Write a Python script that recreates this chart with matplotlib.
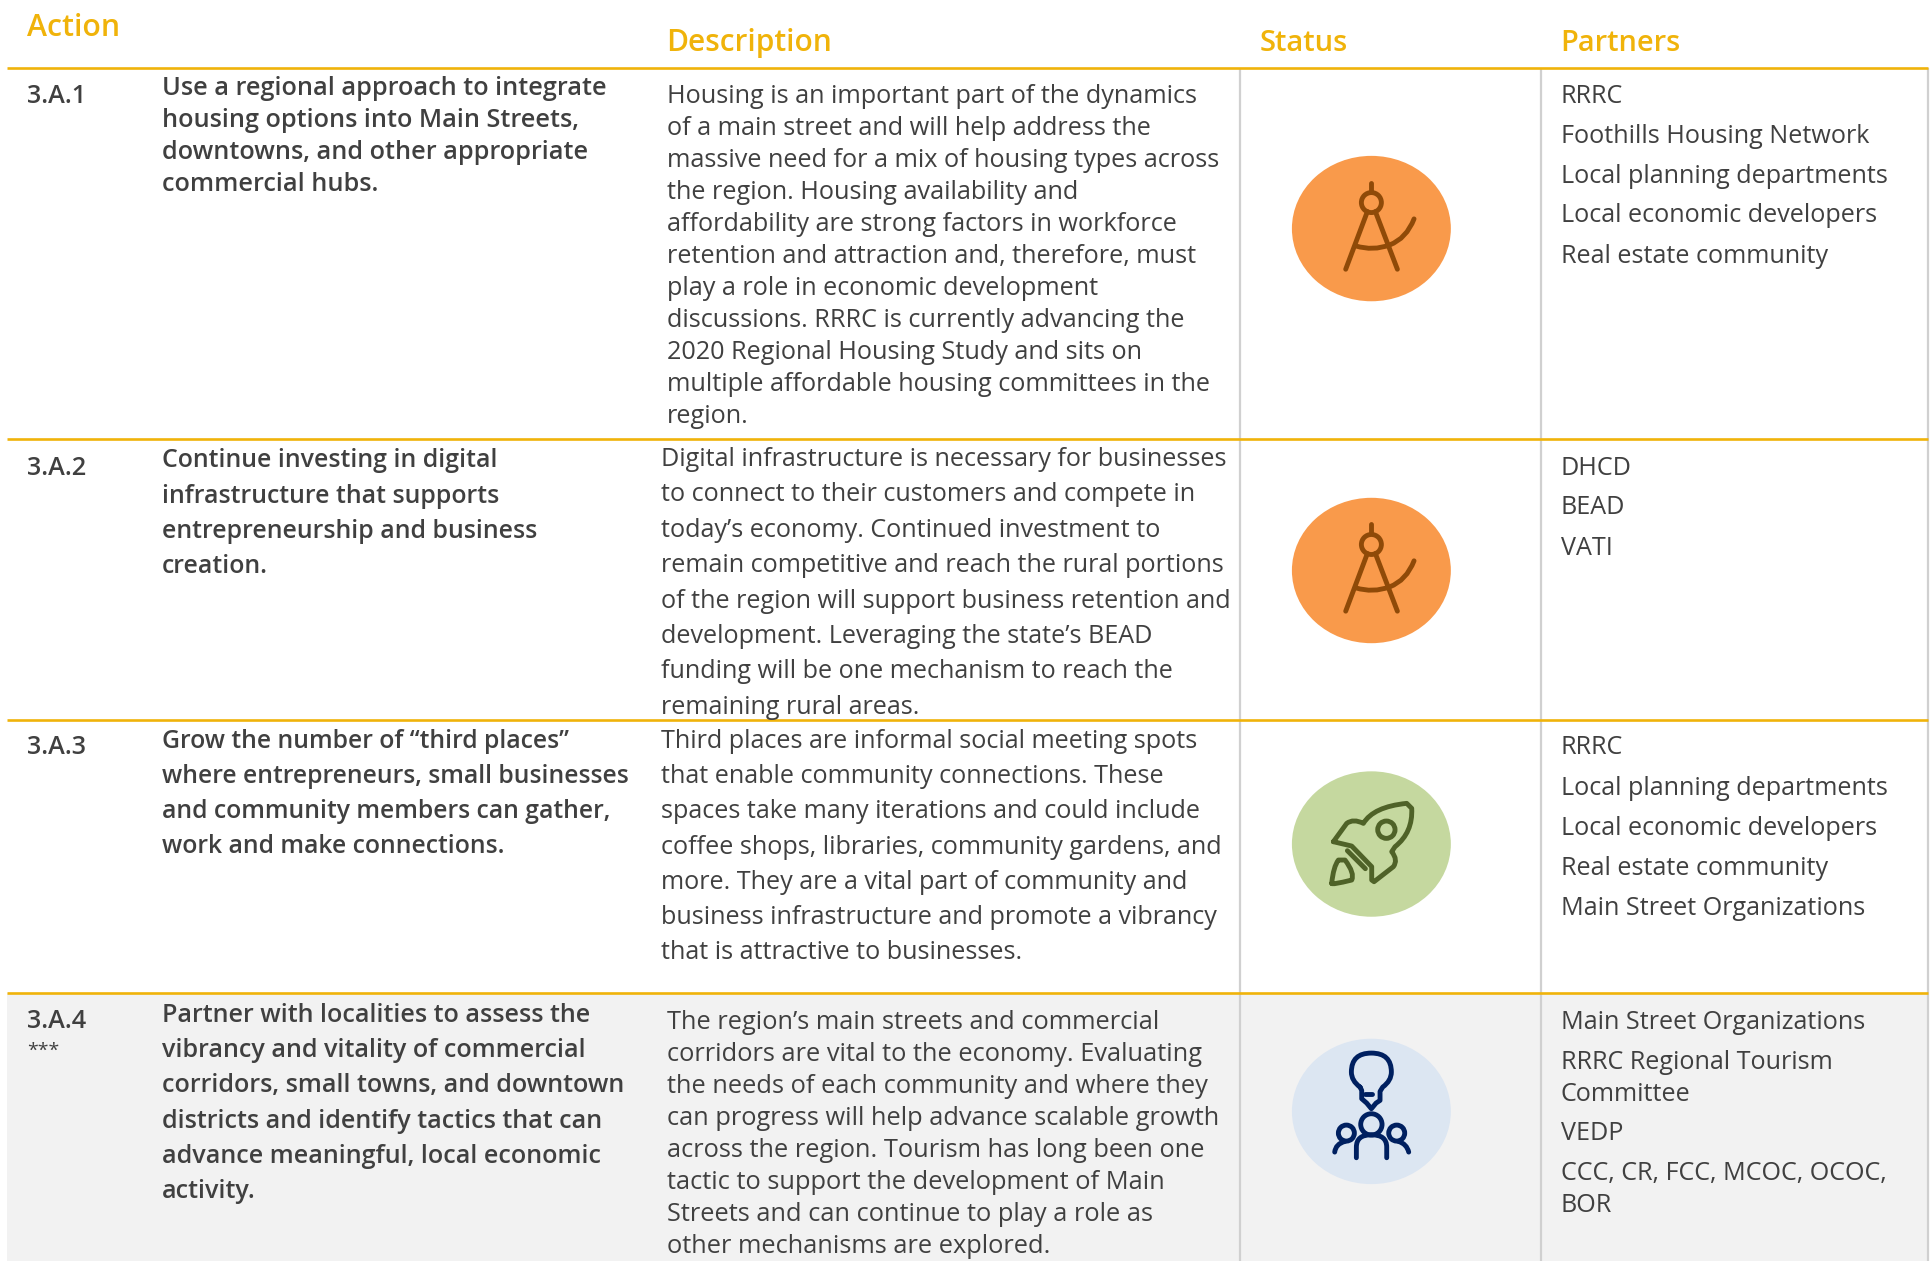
import matplotlib
matplotlib.use("Agg")
import matplotlib.pyplot as plt
from matplotlib.patches import Ellipse, Circle, PathPatch, Rectangle
from matplotlib.path import Path

plt.rcParams['font.family'] = ['Open Sans', 'DejaVu Sans']

headers = ["Action", "Description", "Status", "Partners"]
codes = ["3.A.1", "3.A.2", "3.A.3", "3.A.4"]
actions = [
    ["Use a regional approach to integrate", "housing options into Main Streets,",
     "downtowns, and other appropriate", "commercial hubs."],
    ["Continue investing in digital", "infrastructure that supports",
     "entrepreneurship and business", "creation."],
    ["Grow the number of “third places”", "where entrepreneurs, small businesses",
     "and community members can gather,", "work and make connections."],
    ["Partner with localities to assess the", "vibrancy and vitality of commercial",
     "corridors, small towns, and downtown", "districts and identify tactics that can",
     "advance meaningful, local economic", "activity."],
]
descriptions = [
    ["Housing is an important part of the dynamics", "of a main street and will help address the",
     "massive need for a mix of housing types across", "the region. Housing availability and",
     "affordability are strong factors in workforce", "retention and attraction and, therefore, must",
     "play a role in economic development", "discussions. RRRC is currently advancing the",
     "2020 Regional Housing Study and sits on", "multiple affordable housing committees in the",
     "region."],
    ["Digital infrastructure is necessary for businesses", "to connect to their customers and compete in",
     "today’s economy. Continued investment to", "remain competitive and reach the rural portions",
     "of the region will support business retention and", "development. Leveraging the state’s BEAD",
     "funding will be one mechanism to reach the", "remaining rural areas."],
    ["Third places are informal social meeting spots", "that enable community connections. These",
     "spaces take many iterations and could include", "coffee shops, libraries, community gardens, and",
     "more. They are a vital part of community and", "business infrastructure and promote a vibrancy",
     "that is attractive to businesses."],
    ["The region’s main streets and commercial", "corridors are vital to the economy. Evaluating",
     "the needs of each community and where they", "can progress will help advance scalable growth",
     "across the region. Tourism has long been one", "tactic to support the development of Main",
     "Streets and can continue to play a role as", "other mechanisms are explored."],
]
partners = [
    ["RRRC", "Foothills Housing Network", "Local planning departments",
     "Local economic developers", "Real estate community"],
    ["DHCD", "BEAD", "VATI"],
    ["RRRC", "Local planning departments", "Local economic developers",
     "Real estate community", "Main Street Organizations"],
    ["Main Street Organizations", "RRRC Regional Tourism", "Committee", "VEDP",
     "CCC, CR, FCC, MCOC, OCOC,", "BOR"],
]
icons = ["compass", "compass", "rocket", "people"]

GOLD = "#F0B30A"
TXT = "#404040"
GRID = "#D0D0D0"

fig = plt.figure(figsize=(19.32, 12.61), dpi=100)
ax = fig.add_axes([0, 0, 1, 1])
ax.set_xlim(0, 1568)
ax.set_ylim(1023.4, 0)
ax.axis("off")

Z = 1 / (3 * 1.232)  # zoom crop px -> axes units


def draw_icon(kind, cx, cy):
    fill, ink = {"compass": ("#F99A4B", "#8F4A08"),
                 "rocket": ("#C5D89F", "#4F6228"),
                 "people": ("#DCE6F2", "#002060")}[kind]
    ax.add_patch(Ellipse((cx, cy), 129, 118, fc=fill, ec="none", zorder=2))
    kw = dict(fc="none", ec=ink, lw=3.5, zorder=3, capstyle="round", joinstyle="round")

    def P(verts, codes_):
        v = [(cx + x * Z, cy + y * Z) for x, y in verts]
        ax.add_patch(PathPatch(Path(v, codes_), **kw))

    def L(*pts):
        P(pts, [Path.MOVETO] + [Path.LINETO] * (len(pts) - 1))

    def C(x, y, r):
        ax.add_patch(Circle((cx + x * Z, cy + y * Z), r * Z, **kw))

    M, T, Q = Path.MOVETO, Path.LINETO, Path.CURVE3
    if kind == "compass":
        L((0, -138), (0, -111))
        C(0, -78, 30)
        L((-12, -51), (-77, 122))
        L((12, -51), (78, 122))
        P([(-47, 52), (5, 68), (55, 49), (105, 30), (128, -29)], [M, Q, Q, Q, Q])
    elif kind == "rocket":
        P([(-114, -7), (-74, -62), (-54, -77), (-24, -62), (6, -112), (106, -122),
           (121, -107), (125, -35), (71, 8), (61, 23), (81, 48), (66, 68), (8, 113),
           (1, 108), (1, 68), (-59, 6), (-114, -7)],
          [M, T, Q, Q, Q, Q, T, Q, Q, T, Q, Q, T, T, T, T, T])
        C(45, -43, 26)
        L((-72, 20), (-18, 74))
        P([(-119, 118), (-114, 68), (-99, 48), (-79, 48), (-49, 88), (-59, 108),
           (-119, 123), (-119, 118)],
          [M, Q, Q, T, Q, Q, Q, Q])
    else:
        P([(-34, -73), (-60, -92), (-60, -118), (-60, -175), (0, -175), (60, -175), (60, -118),
           (60, -92), (34, -73), (26, -60), (26, -33), (14, -25), (0, -8), (-14, -25),
           (-29, -38), (-29, -63), (-34, -73)],
          [M, Q, Q, Q, Q, Q, Q, Q, Q, T, T, T, T, T, T, T, T])
        L((-19, -51), (1, -51))
        C(0, 39, 32)
        P([(-45, 139), (-45, 107), (-45, 70), (0, 70), (46, 70), (46, 107), (46, 139)],
          [M, T, Q, Q, Q, Q, T])
        C(-75, 65, 24)
        C(76, 65, 24)
        P([(-110, 122), (-107, 97), (-79, 90)], [M, Q, Q])
        P([(112, 122), (106, 97), (81, 90)], [M, Q, Q])


# row 4 background
ax.add_patch(Rectangle((6, 806), 1559, 220, fc="#F2F2F2", ec="none", zorder=0))

# vertical rules
for x in (1006, 1251, 1565):
    ax.plot([x, x], [55, 1024], color=GRID, lw=1.6, zorder=1, solid_capstyle="butt")
# horizontal rules
for y in (55, 356, 584, 806):
    ax.plot([6, 1565], [y, y], color=GOLD, lw=1.9, zorder=4, solid_capstyle="butt")

DY = 2  # text sits a bit low compared to va=center
head_x = [22, 541, 1022, 1266.5]
head_y = [21, 33, 33, 33]
head_fs = [21.8, 21.5, 21, 20.9]
for s, x, y, fs in zip(headers, head_x, head_y, head_fs):
    ax.text(x, y + DY, s, color=GOLD, fontsize=fs, fontweight="semibold", va="center", zorder=5)

code_y = [76, 378, 605, 827]
action_y = [70, 372, 600, 822]
action_step = [26, 28.6, 28.4, 28.6]
action_fs = [18.15, 17.9, 17.8, 18.1]
desc_x = [541, 536.5, 536.5, 541]
desc_y = [76, 371, 600, 828]
desc_step = [26, 28.7, 28.5, 25.9]
desc_fs = [18.2, 18.05, 18.05, 18.25]
icon_y = [185.5, 463, 685, 902]
partner_y = [
    [76, 109, 141, 173, 206],
    [378, 410, 443],
    [605, 638, 670, 703, 735],
    [828, 860, 886, 918, 950, 976],
]

for i in range(4):
    ax.text(22, code_y[i] + DY, codes[i], color=TXT, fontsize=18.2, fontweight="semibold",
            va="center", zorder=5)
    for j, s in enumerate(actions[i]):
        ax.text(131.5, action_y[i] + j * action_step[i] + DY, s, color=TXT, fontsize=action_fs[i],
                fontweight="semibold", va="center", zorder=5)
    for j, s in enumerate(descriptions[i]):
        ax.text(desc_x[i], desc_y[i] + j * desc_step[i] + DY, s, color=TXT, fontsize=desc_fs[i],
                va="center", zorder=5)
    for s, y in zip(partners[i], partner_y[i]):
        ax.text(1266.5, y + DY, s, color=TXT, fontsize=18.1, va="center", zorder=5)
    draw_icon(icons[i], 1113, icon_y[i])

ax.text(22, 851 + DY, "***", color=TXT, fontsize=14, va="center", zorder=5)

fig.savefig("out.png", dpi=100)
